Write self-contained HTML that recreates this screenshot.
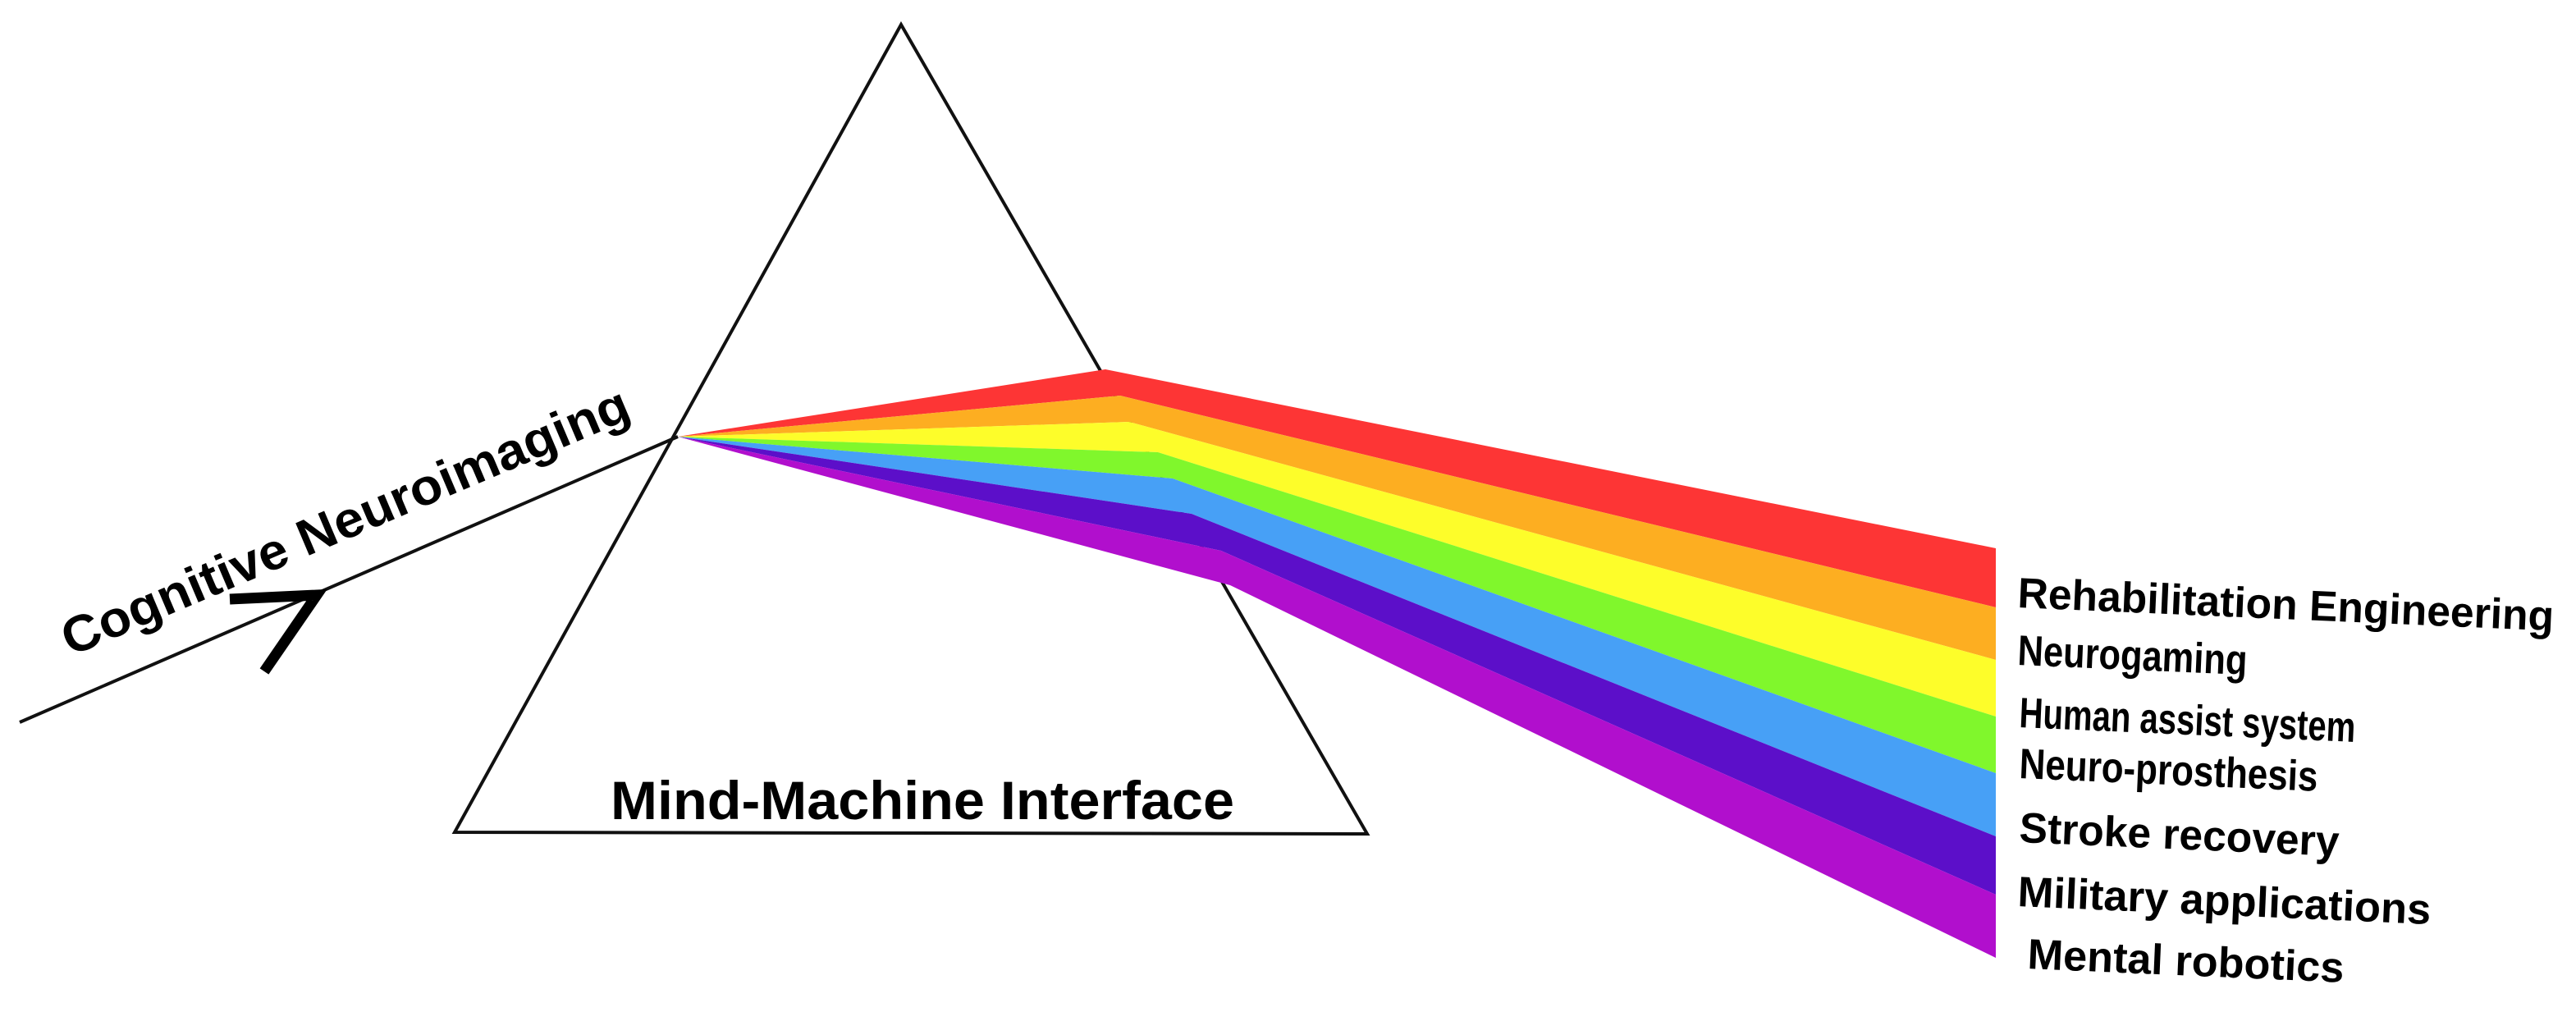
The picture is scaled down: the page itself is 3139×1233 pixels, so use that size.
<!DOCTYPE html>
<html><head><meta charset="utf-8"><style>
html,body{margin:0;padding:0;background:#fff;}
svg{display:block;}
text{font-family:"Liberation Sans",sans-serif;font-weight:bold;fill:#000;}
</style></head><body>
<svg width="3139" height="1233" viewBox="0 0 3139 1233" xmlns="http://www.w3.org/2000/svg">
<rect width="3139" height="1233" fill="#fff"/>
<polygon points="1098,30 554,1014 1666,1016" fill="none" stroke="#111" stroke-width="4"/>
<line x1="24" y1="880" x2="826" y2="532" stroke="#111" stroke-width="4"/>
<polyline points="280,730 386,725 322,818" fill="none" stroke="#000" stroke-width="13"/>
<polygon points="826,532 1347,450 2432,668 2432,740 1365,482" fill="#fd3535"/>
<polygon points="826,532 1365,482 2432,740 2432,804 1376,514" fill="#fdae21"/>
<polygon points="826,532 1376,514 2432,804 2432,873 1411,551" fill="#fdfd2a"/>
<polygon points="826,532 1411,551 2432,873 2432,942 1429,583" fill="#80f72c"/>
<polygon points="826,532 1429,583 2432,942 2432,1019 1452,626" fill="#47a0f6"/>
<polygon points="826,532 1452,626 2432,1019 2432,1090 1488,671" fill="#5c0fc9"/>
<polygon points="826,532 1488,671 2432,1090 2432,1167 1499,713" fill="#b10fcd"/>
<text x="0" y="0" font-size="62" textLength="745" lengthAdjust="spacingAndGlyphs" transform="translate(86,800) rotate(-23)">Cognitive Neuroimaging</text>
<text x="744" y="998" font-size="66" textLength="760" lengthAdjust="spacingAndGlyphs">Mind-Machine Interface</text>
<g font-size="52">
<text x="0" y="0" textLength="654" lengthAdjust="spacingAndGlyphs" transform="translate(2458,740) rotate(2.5)">Rehabilitation Engineering</text>
<text x="0" y="0" textLength="280" lengthAdjust="spacingAndGlyphs" transform="translate(2458,810) rotate(2.5)">Neurogaming</text>
<text x="0" y="0" textLength="410" lengthAdjust="spacingAndGlyphs" transform="translate(2460,886) rotate(2.5)">Human assist system</text>
<text x="0" y="0" textLength="364" lengthAdjust="spacingAndGlyphs" transform="translate(2460,948) rotate(2.5)">Neuro-prosthesis</text>
<text x="0" y="0" textLength="390" lengthAdjust="spacingAndGlyphs" transform="translate(2460,1026) rotate(2.5)">Stroke recovery</text>
<text x="0" y="0" textLength="504" lengthAdjust="spacingAndGlyphs" transform="translate(2458,1104) rotate(2.5)">Military applications</text>
<text x="0" y="0" textLength="386" lengthAdjust="spacingAndGlyphs" transform="translate(2470,1180) rotate(2.5)">Mental robotics</text>
</g>
</svg>
</body></html>
